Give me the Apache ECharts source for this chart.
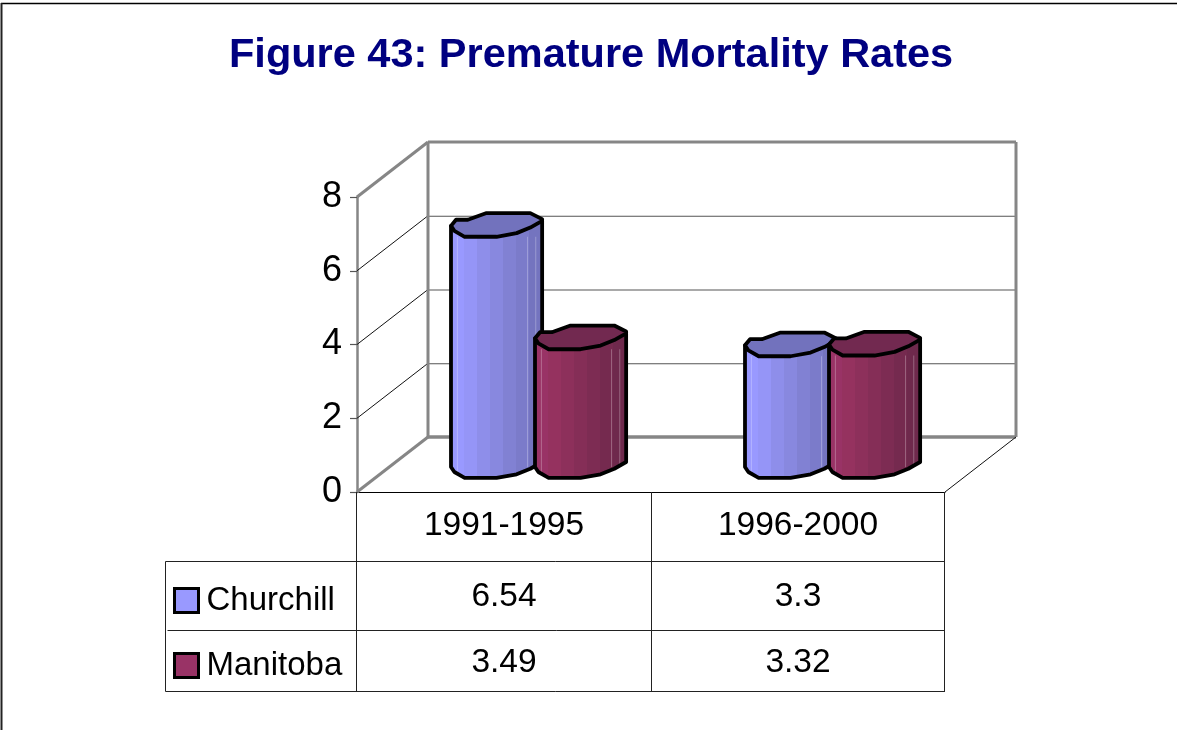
<!DOCTYPE html>
<html><head><meta charset="utf-8">
<style>html,body{margin:0;padding:0;background:#fff}#c{width:1177px;height:730px}</style>
<script src="https://cdn.jsdelivr.net/npm/echarts@6/dist/echarts.min.js"></script>
</head><body><div id="c"></div>
<script>
const titleText = 'Figure 43: Premature Mortality Rates';
const categories = ['1991-1995', '1996-2000'];
const churchill = [6.54, 3.3];
const manitoba = [3.49, 3.32];
const yTicks = [0, 2, 4, 6, 8];

const FONT = '"Liberation Sans", Arial, sans-serif';
const DX = 71, DY = -55;            // depth of the 3D box
const topShape = [[0,0],[.055,-.067],[.185,-.067],[.39,-.14],[.87,-.14],[1,-.074],[1,-.055],[.87,.019],[.72,.08],[.5,.12],[.15,.12],[.037,.055]];
const frontShape = [[0,0],[.037,.055],[.15,.12],[.5,.12],[.72,.08],[.87,.019],[1,-.055]];

function bands(colors) {
  const stops = [], n = colors.length;
  colors.forEach((c, i) => {
    stops.push({offset: i / n, color: c}, {offset: (i + 1) / n, color: c});
  });
  return {type: 'linear', x: 0, y: 0, x2: 1, y2: 0, colorStops: stops};
}
const blueBands = ['#9999FF','#9595F7','#8E8EEA','#8888DF','#8181D3','#7B7BCA','#7474BF'];
const redBands = ['#993366','#95325F','#8D305B','#852E57','#7D2C53','#752A4F','#6E294C'];

function cylinder(offsetFrac, bands_, topColor) {
  return function (params, api) {
    const i = api.value(0), v = api.value(1);
    const band = api.size([1, 0])[0];
    const p = api.coord([i, v]), p0 = api.coord([i, 0]);
    const w = band * 0.31;
    const x = p[0] + band * offsetFrac;
    const yt = p[1] + DY / 2 + 2.5, yb = p0[1] + DY / 2 + 2.5;
    const body = [[x, yt]]
      .concat(frontShape.map(s => [x + s[0] * w, yb + s[1] * w]))
      .concat([[x + w, yt - .055 * w]]);
    const top = topShape.map(s => [x + s[0] * w, yt + s[1] * w]);
    const bord = {stroke: '#000', lineWidth: 3.8, lineJoin: 'round'};
    const streaks = [.07, .84, .93].map(f => ({
      type: 'line',
      shape: {x1: x + f * w, y1: yt + .12 * w, x2: x + f * w, y2: yb + (f < .5 ? .09 : 0) * w},
      style: {stroke: 'rgba(255,255,255,0.28)', lineWidth: 1}
    }));
    return {type: 'group', children: [
      {type: 'polygon', shape: {points: body}, style: {fill: bands_, stroke: null}},
      ...streaks,
      {type: 'polygon', shape: {points: body}, style: Object.assign({fill: 'none'}, bord)},
      {type: 'polygon', shape: {points: top}, style: Object.assign({fill: topColor}, bord)}
    ]};
  };
}

function frame(params, api) {
  const c = params.coordSys;
  const L = c.x, R = c.x + c.width, T = c.y, B = c.y + c.height;
  const line = (x1, y1, x2, y2, stroke, lw) => ({type: 'line', shape: {x1, y1, x2, y2}, style: {stroke, lineWidth: lw}});
  const kids = [];
  yTicks.slice(1, -1).forEach(t => {
    const y = api.coord([0, t])[1];
    kids.push(line(L, y, L + DX, y + DY, '#111', 1));
    kids.push(line(L + DX, y + DY + .5, R + DX, y + DY + .5, '#555', 1.2));
  });
  const G = '#868686';
  kids.push(line(L + DX, T + DY, R + DX, T + DY, G, 3));
  kids.push(line(L + DX, T + DY, L + DX, B + DY, G, 3));
  kids.push(line(R + DX, T + DY, R + DX, B + DY, G, 3));
  kids.push(line(L + DX, B + DY, R + DX, B + DY, G, 3.5));
  kids.push(line(L, T, L + DX, T + DY, G, 3));
  kids.push(line(L, B, L + DX, B + DY, G, 3));
  kids.push(line(R, B, R + DX, B + DY, '#111', 1));
  return {type: 'group', children: kids};
}

function table(params, api) {
  const c = params.coordSys;
  const L = c.x, R = c.x + c.width, B = c.y + c.height;
  const r1 = B + 69.5, r2 = B + 138.5, r3 = B + 199.5, tl = L - 191.5;
  const line = (x1, y1, x2, y2) => ({type: 'line', shape: {x1, y1, x2, y2}, style: {stroke: '#222', lineWidth: 1}});
  const m = L + c.width / 2 + .5;
  const kids = [
    line(L - .5, B, L - .5, r3), line(m, B, m, r3), line(R - .5, B, R - .5, r3),
    line(tl, r1, R, r1), line(tl + 2, r2, R, r2), line(tl, r3, R, r3), line(tl, r1, tl, r3)
  ];
  [churchill, manitoba].forEach((arr, row) => arr.forEach((val, i) => {
    kids.push({type: 'text', style: {
      x: api.coord([i, 0])[0], y: row ? B + 171 : B + 105, text: String(val),
      font: '33.5px ' + FONT, fill: '#000', align: 'center', verticalAlign: 'middle'
    }});
  }));
  return {type: 'group', children: kids};
}

const chart = echarts.init(document.getElementById('c'), null, {renderer: 'canvas'});
chart.setOption({
  animation: false,
  backgroundColor: '#fff',
  title: {text: titleText, left: 224, top: 30, textStyle: {fontFamily: FONT, fontSize: 41.5, fontWeight: 'bold', color: '#000080'}},
  legend: {
    orient: 'vertical', left: 168, top: 579, itemWidth: 24, itemHeight: 24, itemGap: 32,
    selectedMode: false, icon: 'rect',
    textStyle: {fontFamily: FONT, fontSize: 33, color: '#000', padding: [0, 0, 0, 3]},
    data: [
      {name: 'Churchill', itemStyle: {color: '#9999FF', borderColor: '#000', borderWidth: 3}},
      {name: 'Manitoba', itemStyle: {color: '#993366', borderColor: '#000', borderWidth: 3}}
    ]
  },
  grid: {left: 357, top: 197, width: 588, height: 295},
  xAxis: {
    type: 'category', data: categories,
    axisLine: {lineStyle: {color: '#000', width: 1.2}}, axisTick: {show: false},
    axisLabel: {fontFamily: FONT, fontSize: 33.5, color: '#000', margin: 17}
  },
  yAxis: {
    type: 'value', min: 0, max: 8, interval: 2,
    axisLine: {show: true, lineStyle: {color: '#868686', width: 2.5}},
    axisTick: {show: true, length: 7, lineStyle: {color: '#555', width: 1.2}},
    axisLabel: {fontFamily: FONT, fontSize: 36, color: '#000', margin: 15, padding: [3, 0, 0, 0]},
    splitLine: {show: false}
  },
  graphic: [
    {type: 'line', shape: {x1: 1, y1: 3.5, x2: 1177, y2: 3.5}, style: {stroke: '#000', lineWidth: 1.5}, silent: true},
    {type: 'line', shape: {x1: 1.5, y1: 3, x2: 1.5, y2: 730}, style: {stroke: '#222', lineWidth: 2}, silent: true}
  ],
  series: [
    {type: 'custom', name: 'frame', z: 1, silent: true, renderItem: frame, data: [0], encode: {x: 0, y: 0}},
    {type: 'custom', name: 'table', z: 1, silent: true, renderItem: table, data: [0], encode: {x: 0, y: 0}},
    {type: 'custom', name: 'Churchill', z: 3, itemStyle: {color: '#9999FF'},
      renderItem: cylinder(-53 / 294, bands(blueBands), '#7272BD'),
      data: churchill.map((v, i) => [i, v]), encode: {x: 0, y: 1}},
    {type: 'custom', name: 'Manitoba', z: 4, itemStyle: {color: '#993366'},
      renderItem: cylinder(31 / 294, bands(redBands), '#722950'),
      data: manitoba.map((v, i) => [i, v]), encode: {x: 0, y: 1}}
  ]
});
</script></body></html>
